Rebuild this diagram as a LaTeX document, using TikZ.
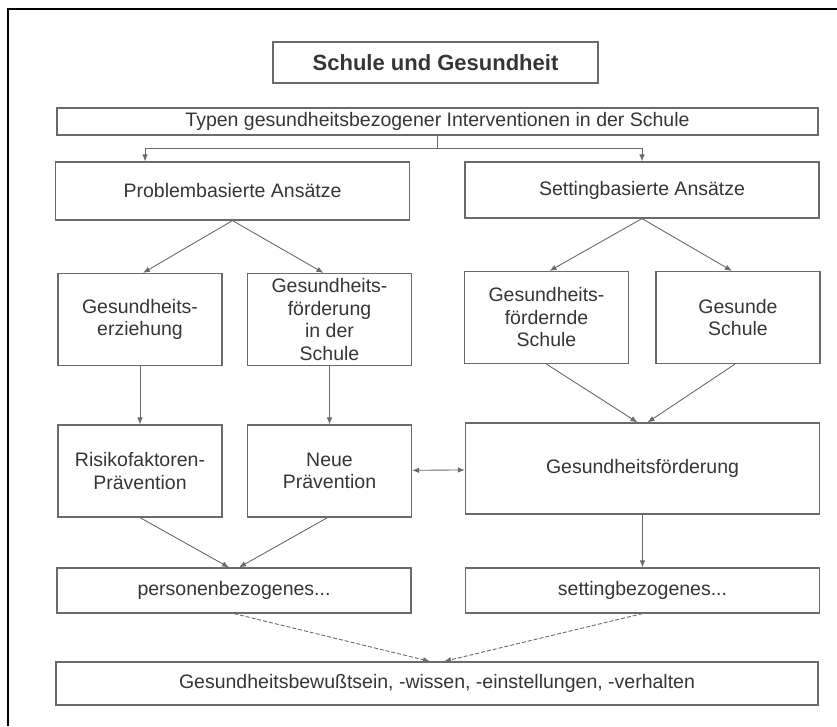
\documentclass[tikz,border=0pt]{standalone}
\usepackage{fontspec}
\setmainfont{Liberation Sans}
\usepackage{xcolor}
\usepackage{tikz}
\usetikzlibrary{arrows.meta,positioning}

\definecolor{linegray}{HTML}{6A6A6A}
\definecolor{textgray}{HTML}{353535}

\begin{document}
\begin{tikzpicture}[
    x=1pt, y=-1pt,
    box/.style={rectangle, draw=linegray, line width=1.2pt, align=center, text=textgray, inner sep=0pt, font=\fontsize{19.5}{22.5}\selectfont},
    smallbox/.style={box, minimum width=164pt, minimum height=92pt},
    widebox/.style={box, minimum width=354pt},
    arrow/.style={-{Latex[length=7pt,width=5.5pt]}, draw=linegray, line width=0.9pt},
    dasharrow/.style={arrow, dashed, dash pattern=on 4pt off 2pt}
]
\useasboundingbox (0,0) rectangle (837,726);
% outer frame
\draw[line width=2pt] (837,9) -- (8,9) -- (8,726);

\node[box, minimum width=325pt, minimum height=41pt, font=\bfseries\fontsize{22}{26}\selectfont] (title) at (435.5,62.5) {Schule und Gesundheit};
\node[box, minimum width=761pt, minimum height=27pt] (types) at (437.5,121.5) {Typen gesundheitsbezogener Interventionen in der Schule};

\node[widebox, minimum height=58pt] (probl) at (232.5,191) {Problembasierte Ansätze};
\node[widebox, minimum height=56pt] (setting) at (642,190) {Settingbasierte Ansätze};

\node[smallbox] (erz) at (140,319.5) {Gesundheits-\\erziehung};
\node[smallbox] (foerdschule) at (329.5,319.5) {Gesundheits-\\förderung\\in der\\Schule};
\node[smallbox] (foerdernd) at (546.5,317.5) {Gesundheits-\\fördernde\\Schule};
\node[smallbox] (gesund) at (738,317.5) {Gesunde\\Schule};

\node[smallbox] (risiko) at (140,471) {Risikofaktoren-\\Prävention};
\node[smallbox] (neue) at (329.5,471) {Neue\\Prävention};
\node[widebox, minimum height=91pt] (foerderung) at (642.5,468.5) {Gesundheitsförderung};

\node[widebox, minimum height=45pt] (personen) at (234,590.5) {personenbezogenes...};
\node[widebox, minimum height=45pt] (settingbez) at (642.5,590.5) {settingbezogenes...};

\node[box, minimum width=762pt, minimum height=43pt] (ergebnis) at (437,683.5) {Gesundheitsbewußtsein, -wissen, -einstellungen, -verhalten};

% connectors
\coordinate (split) at (437,148);
\draw[draw=linegray, line width=0.9pt] (types.south -| split) -- (split);
\draw[arrow] (split) -| ([xshift=-87.5pt]probl.north);
\draw[arrow] (split) -| (setting.north);

\draw[arrow] (probl.south) -- ([xshift=3pt]erz.north);
\draw[arrow] (probl.south) -- ([xshift=-6pt]foerdschule.north);
\draw[arrow] (setting.south) -- ([xshift=3pt]foerdernd.north);
\draw[arrow] (setting.south) -- ([xshift=-6pt]gesund.north);

\draw[arrow] (erz) -- (risiko);
\draw[arrow] (foerdschule) -- (neue);
\draw[arrow] (foerdernd.south) -- ([xshift=-5pt]foerderung.north);
\draw[arrow] ([xshift=-3pt]gesund.south) -- ([xshift=5pt]foerderung.north);

\draw[arrow, {Latex[length=7pt,width=5.5pt]}-{Latex[length=7pt,width=5.5pt]}] (neue) -- (foerderung);

\draw[arrow] (risiko.south) -- ([xshift=-5pt]personen.north);
\draw[arrow] ([xshift=-2pt]neue.south) -- ([xshift=5pt]personen.north);
\draw[arrow] (foerderung) -- (settingbez);

\draw[dasharrow] (personen.south) -- ([xshift=-7pt]ergebnis.north);
\draw[dasharrow] (settingbez.south) -- ([xshift=7pt]ergebnis.north);
\end{tikzpicture}
\end{document}
